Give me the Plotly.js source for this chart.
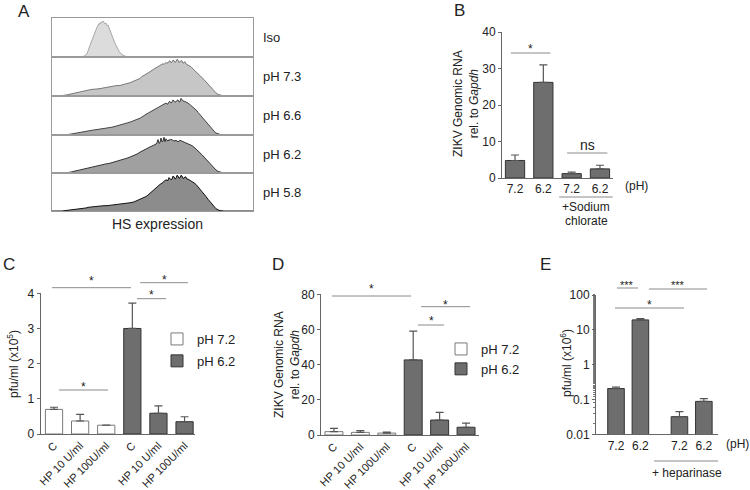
<!DOCTYPE html>
<html><head><meta charset="utf-8">
<script src="https://cdn.plot.ly/plotly-3.0.1.min.js"></script>
<style>body{margin:0;background:#fff}#chart{width:750px;height:490px}</style>
</head><body><div id="chart"></div>
<script>
// ---------- Panel A: HS expression histograms (channel, normalized count) ----------
const histLabels = ['Iso', 'pH 7.3', 'pH 6.6', 'pH 6.2', 'pH 5.8'];
const isoX = [0,28,32,35,38,40,42,44,45,46,47,48,49,50,51,52,53,54,55,56,57,59,61,63,65,67,69,72,76,80,201];
const isoY = [0,0,2,8,30,45,58,70,76,80,86,84,90,88,92,89,85,87,80,82,74,62,48,35,24,15,8,3,0.5,0,0];
const ph73X = [0,5,10,15,20,25,28,30,33,35,38,40,43,45,48,50,53,55,58,60,63,65,68,70,73,75,78,80,83,85,88,90,93,95,98,100,102,104,106,108,110,111,112,114,115,116,117,118,119,120,121,122,123,124,125,126,127,128,129,130,131,132,133,134,136,137,139,140,142,144,146,148,150,152,154,156,158,160,162,164,166,168,172,201];
const ph73Y = [0,0,1,3,6,9,11,13,14,15,16,17,17,18,19,20,20,22,23,24,26,27,27,29,31,32,34,36,38,41,45,50,54,57,62,66,69,72,75,78,80,83,81,86,84,85,89,90,85,87,92,91,86,88,94,92,86,87,91,90,84,85,88,82,80,77,75,72,67,63,59,54,48,42,36,30,24,18,13,8,4,2,0,0];
const ph66X = [0,12,18,24,27,30,33,36,39,42,45,48,51,54,57,60,63,66,69,72,75,78,81,84,86,88,90,92,94,96,98,100,102,104,106,108,110,111,112,114,115,116,117,118,119,120,121,122,123,124,125,126,127,128,129,130,131,132,133,134,136,137,139,140,142,143,145,146,148,150,152,154,156,158,160,162,164,166,170,201];
const ph66Y = [0,0,2,5,7,8,9,10,12,13,14,15,16,18,19,20,22,24,26,28,30,33,36,38,41,43,47,50,53,56,59,62,65,68,70,72,76,78,80,82,79,80,85,86,82,84,90,88,84,86,88,90,85,85,94,91,87,87,86,86,82,80,76,74,69,66,62,58,52,44,38,32,26,20,14,10,5,3,0,0];
const ph62X = [0,12,18,24,27,30,33,36,39,42,45,48,51,54,57,60,63,66,69,72,75,78,81,84,86,88,90,92,94,96,98,100,102,104,105,106,107,108,109,110,111,112,113,114,115,116,117,118,119,120,122,124,126,128,130,132,134,136,138,140,142,144,146,148,150,152,154,156,158,160,162,164,166,168,172,201];
const ph62Y = [0,0,2,6,8,10,12,14,15,17,18,20,22,24,25,27,29,31,33,36,39,42,45,48,51,55,57,60,63,66,69,72,74,76,80,88,78,80,92,82,84,94,82,90,86,84,88,86,89,88,84,86,82,86,84,82,80,78,75,72,68,63,59,55,48,42,36,30,24,18,12,8,4,2,0,0];
const ph58X = [0,10,16,22,25,28,31,34,37,40,43,46,49,52,55,58,61,64,67,70,73,76,79,82,85,88,90,92,94,96,98,100,102,104,106,108,110,111,112,114,115,116,117,118,119,120,121,122,123,124,125,126,127,128,129,130,131,132,133,134,135,136,138,139,141,142,144,146,148,150,152,154,156,158,160,161,163,164,166,168,172,201];
const ph58Y = [0,0,2,4,4,5,7,8,10,11,11,12,13,14,14,15,16,16,18,19,20,21,22,24,27,30,32,35,38,42,47,52,57,62,66,70,73,76,78,82,80,80,88,86,82,84,92,90,84,86,94,92,86,87,94,92,86,86,90,89,84,84,81,80,77,74,70,64,58,52,45,38,31,24,18,14,9,6,3,1,0,0];

// ---------- Panel B ----------
const bLabels = ['7.2', '6.2', '7.2', '6.2'];
const bMean = [4.8, 26.2, 1.2, 2.5];
const bErr = [1.5, 4.8, 0.4, 1.0];

// ---------- Panel C (pfu/ml x10^5) ----------
const cLabels = ['C', 'HP 10 U/ml', 'HP 100U/ml', 'C', 'HP 10 U/ml', 'HP 100U/ml'];
const cMean72 = [0.70, 0.37, 0.25];
const cErr72 = [0.06, 0.19, 0.0];
const cMean62 = [3.0, 0.59, 0.35];
const cErr62 = [0.72, 0.21, 0.14];

// ---------- Panel D (ZIKV RNA rel. to Gapdh) ----------
const dLabels = ['C', 'HP 10 U/ml', 'HP 100U/ml', 'C', 'HP 10 U/ml', 'HP 100U/ml'];
const dMean72 = [1.9, 1.5, 1.1];
const dErr72 = [1.9, 1.0, 0.6];
const dMean62 = [42.7, 8.5, 4.4];
const dErr62 = [16.4, 4.4, 2.4];

// ---------- Panel E (pfu/ml x10^6, log) ----------
const eLabels = ['7.2', '6.2', '7.2', '6.2'];
const ePos = [0, 1, 2.6, 3.6];
const eMean = [0.206, 19.3, 0.032, 0.088];
const eErr = [0.019, 1.7, 0.0125, 0.017];

const W = 750, H = 490;
const px = x => x / W;
const py = y => 1 - y / H;
const FONT = 'Liberation Sans, Arial, Helvetica, sans-serif';
const zeros = n => new Array(n).fill(0);

const histX = [isoX, ph73X, ph66X, ph62X, ph58X];
const histY = [isoY, ph73Y, ph66Y, ph62Y, ph58Y];
const histFill = ['#dcdcdc', '#c6c6c6', '#acacac', '#a0a0a0', '#8c8c8c'];
const histLine = ['#a6a6a6', '#787878', '#454545', '#333333', '#111111'];
const rowTops = [18, 57, 96, 135, 173, 211];

const traces = [];
const layout = {
  width: W, height: H, margin: {l: 0, r: 0, t: 0, b: 0},
  paper_bgcolor: '#fff', plot_bgcolor: 'rgba(0,0,0,0)',
  font: {family: FONT, size: 12, color: '#222'},
  barmode: 'overlay',
  showlegend: true,
  annotations: [], shapes: []
};

// Panel A subplots
for (let i = 0; i < 5; i++) {
  const n = i + 1;
  const xa = n === 1 ? 'x' : 'x' + n, ya = n === 1 ? 'y' : 'y' + n;
  traces.push({type: 'scatter', mode: 'lines', x: histX[i], y: histY[i], xaxis: xa, yaxis: ya,
    fill: 'tozeroy', fillcolor: histFill[i], line: {color: histLine[i], width: 1}, showlegend: false, hoverinfo: 'skip'});
  const xk = n === 1 ? 'xaxis' : 'xaxis' + n, yk = n === 1 ? 'yaxis' : 'yaxis' + n;
  layout[xk] = {domain: [px(52), px(253)], range: [0, 201], anchor: ya, showline: true, mirror: true,
    linecolor: '#9a9a9a', linewidth: 1, showgrid: false, zeroline: false, ticks: '', showticklabels: false, fixedrange: true};
  layout[yk] = {domain: [py(rowTops[i + 1]), py(rowTops[i])], range: [0, 100], anchor: xa, showline: true, mirror: true,
    linecolor: '#9a9a9a', linewidth: 1, showgrid: false, zeroline: false, ticks: '', showticklabels: false, fixedrange: true};
  layout.annotations.push({xref: 'paper', yref: 'paper', x: px(261), y: py((rowTops[i] + rowTops[i + 1]) / 2),
    xanchor: 'left', yanchor: 'middle', text: histLabels[i], showarrow: false, font: {size: 13, color: '#222'}});
}

function barAxes(n, xdom, ydom, yopts, xopts) {
  layout['xaxis' + n] = Object.assign({domain: xdom, anchor: 'y' + n, showline: true, linecolor: '#666', linewidth: 1,
    showgrid: false, zeroline: false, ticks: '', tickfont: {size: 12, color: '#222'}, fixedrange: true}, xopts);
  layout['yaxis' + n] = Object.assign({domain: ydom, anchor: 'x' + n, showline: true, linecolor: '#666', linewidth: 1,
    showgrid: false, zeroline: false, ticks: 'outside', ticklen: 3, tickcolor: '#666', tickfont: {size: 12, color: '#222'},
    fixedrange: true}, yopts);
}
const grayBar = {color: '#6e6e6e', line: {color: '#333', width: 1}};
const whiteBar = {color: '#ffffff', line: {color: '#7a7a7a', width: 1}};
const errStyle = (arr) => ({type: 'data', symmetric: false, array: arr, arrayminus: zeros(arr.length), color: '#555', thickness: 1.2, width: 4});

// Panel B
barAxes(6, [px(502), px(613)], [py(178), py(32)], {range: [0, 40], tickvals: [0, 10, 20, 30, 40]},
  {range: [-0.46, 3.46], tickvals: [0, 1, 2, 3], ticktext: bLabels});
traces.push({type: 'bar', x: [0, 1, 2, 3], y: bMean, width: 0.68, xaxis: 'x6', yaxis: 'y6', marker: grayBar,
  error_y: errStyle(bErr), showlegend: false, hoverinfo: 'skip'});

// Panel C
barAxes(7, [px(40.7), px(195)], [py(434), py(293.3)], {range: [0, 4], tickvals: [0, 1, 2, 3, 4]},
  {range: [-0.51, 5.4], tickvals: [0, 1, 2, 3, 4, 5], ticktext: cLabels, tickangle: -45, tickfont: {size: 11, color: '#222'}});
traces.push({type: 'bar', x: [0, 1, 2], y: cMean72, width: 0.66, xaxis: 'x7', yaxis: 'y7', marker: whiteBar,
  error_y: errStyle(cErr72), name: 'pH 7.2', legend: 'legend', legendgroup: 'c72', hoverinfo: 'skip'});
traces.push({type: 'bar', x: [3, 4, 5], y: cMean62, width: 0.66, xaxis: 'x7', yaxis: 'y7', marker: grayBar,
  error_y: errStyle(cErr62), name: 'pH 6.2', legend: 'legend', legendgroup: 'c62', hoverinfo: 'skip'});

// Panel D
barAxes(8, [px(321), px(479)], [py(435), py(294.3)], {range: [0, 80], tickvals: [0, 20, 40, 60, 80]},
  {range: [-0.49, 5.49], tickvals: [0, 1, 2, 3, 4, 5], ticktext: dLabels, tickangle: -45, tickfont: {size: 11, color: '#222'}});
traces.push({type: 'bar', x: [0, 1, 2], y: dMean72, width: 0.68, xaxis: 'x8', yaxis: 'y8', marker: whiteBar,
  error_y: errStyle(dErr72), name: 'pH 7.2', legend: 'legend2', hoverinfo: 'skip'});
traces.push({type: 'bar', x: [3, 4, 5], y: dMean62, width: 0.68, xaxis: 'x8', yaxis: 'y8', marker: grayBar,
  error_y: errStyle(dErr62), name: 'pH 6.2', legend: 'legend2', hoverinfo: 'skip'});

// Panel E
barAxes(9, [px(596), px(718)], [py(434.3), py(295)],
  {type: 'log', range: [-2, 2], tickvals: [0.01, 0.1, 1, 10, 100], ticktext: ['0.01', '0.1', '1', '10', '100'],
   minor: {ticks: 'outside', ticklen: 2, tickcolor: '#777', showgrid: false}},
  {range: [-0.82, 4.18], tickvals: ePos, ticktext: eLabels});
traces.push({type: 'bar', x: ePos, y: eMean, width: 0.68, xaxis: 'x9', yaxis: 'y9', marker: grayBar, base: 0.0001,
  error_y: errStyle(eErr), showlegend: false, hoverinfo: 'skip'});

layout.legend = {x: px(157), y: py(324), xanchor: 'left', yanchor: 'top', bgcolor: 'rgba(0,0,0,0)',
  font: {size: 13, color: '#222'}, tracegroupgap: 2, itemclick: false};
layout.legend2 = {x: px(441), y: py(334), xanchor: 'left', yanchor: 'top', bgcolor: 'rgba(0,0,0,0)',
  font: {size: 13, color: '#222'}, tracegroupgap: 0, itemclick: false};

// Text annotations (titles, panel letters)
function txt(x, y, text, size, opts) {
  layout.annotations.push(Object.assign({xref: 'paper', yref: 'paper', x: px(x), y: py(y), text: text, showarrow: false,
    xanchor: 'center', yanchor: 'middle', font: {size: size, color: '#222'}}, opts || {}));
}
txt(24, 11, 'A', 17); txt(459, 10, 'B', 17); txt(9, 264, 'C', 17); txt(278, 264, 'D', 17); txt(545, 264, 'E', 17);
txt(157, 224, 'HS expression', 14);
txt(466, 103, 'ZIKV Genomic RNA<br>rel. to <i>Gapdh</i>', 12, {textangle: -90});
txt(13, 364, 'pfu/ml (x10<sup>5</sup>)', 12, {textangle: -90});
txt(287, 365, 'ZIKV Genomic RNA<br>rel. to <i>Gapdh</i>', 12, {textangle: -90});
txt(566, 363, 'pfu/ml (x10<sup>6</sup>)', 12, {textangle: -90});
txt(636, 186, '(pH)', 12);
txt(586, 207, '+Sodium', 12);
txt(586, 221, 'chlorate', 12);
txt(737, 444, '(pH)', 12);
txt(687, 473, '+ heparinase', 12);

// Significance brackets: x in bar positions, y in paper
function sig(xa, x0, x1, yLine, label, yText, size) {
  layout.shapes.push({type: 'line', xref: xa, yref: 'paper', x0: x0, x1: x1, y0: py(yLine), y1: py(yLine),
    line: {color: '#8a8a8a', width: 1}});
  if (label) layout.annotations.push({xref: xa, yref: 'paper', x: (x0 + x1) / 2, y: py(yText), text: label,
    showarrow: false, xanchor: 'center', yanchor: 'middle', font: {size: size || 12, color: '#222'}});
}
sig('x6', -0.15, 1.25, 53, '*', 49);
sig('x6', 1.84, 3.26, 153, 'ns', 145, 14);
sig('x6', 1.56, 3.45, 197, '', 0);
sig('x7', -0.08, 2.95, 287.7, '*', 281);
sig('x7', 3.3, 5.13, 282.7, '*', 280);
sig('x7', 3.18, 4.29, 298.7, '*', 295);
sig('x7', 0.19, 2.07, 390, '*', 387);
sig('x8', -0.08, 2.92, 296, '*', 289);
sig('x8', 3.3, 5.15, 306.7, '*', 305);
sig('x8', 3.18, 4.17, 325, '*', 321);
sig('x9', 0.04, 0.9, 288, '***', 285, 11);
sig('x9', 1.35, 3.73, 289, '***', 285, 11);
sig('x9', -0.04, 2.79, 308, '*', 305);
sig('x9', 1.56, 4.18, 461, '', 0);

Plotly.newPlot('chart', traces, layout, {displayModeBar: false, staticPlot: true});
</script>
</body></html>
